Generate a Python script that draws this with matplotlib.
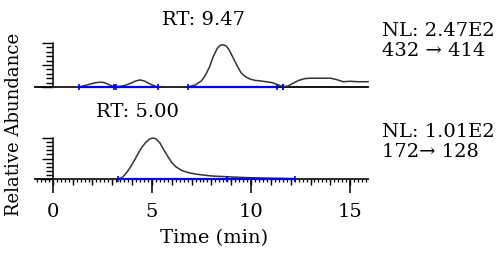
import numpy as np
import matplotlib
matplotlib.use('Agg')
import matplotlib.pyplot as plt
from matplotlib.ticker import MultipleLocator, FixedLocator

# chromatogram traces (time in min, % relative abundance)
top_t = [0.0, 1.3, 1.6, 1.9, 2.2, 2.4, 2.6, 2.8, 3.0, 3.3, 3.6, 3.9, 4.2, 4.4, 4.6, 4.9, 5.2,
         6.5, 6.9, 7.2, 7.5, 7.7, 7.9, 8.1, 8.3, 8.45, 8.6, 8.75, 8.9, 9.1, 9.3, 9.5, 9.7,
         9.95, 10.2, 10.45, 10.75, 11.06, 11.3, 11.6, 11.85, 12.1, 12.4, 12.7, 13.0, 13.5,
         14.0, 14.3, 14.65, 15.0, 15.4, 15.9]
top_y = [0, 0, 3, 7, 10, 11, 10, 6, 2, 1, 3, 8, 14, 16, 14, 7, 1,
         0, 1, 5, 14, 27, 45, 70, 88, 95, 96, 93, 84, 66, 48, 32, 24,
         18, 15, 14, 12, 10, 6, 1, 2, 8, 15, 19, 20, 20,
         20, 17, 12, 13, 12, 12]
bot_t = [0.0, 3.3, 3.5, 3.7, 3.9, 4.1, 4.3, 4.5, 4.7, 4.9, 5.05, 5.2, 5.4, 5.6, 5.8, 6.0,
         6.2, 6.5, 6.8, 7.2, 7.7, 8.1, 8.6, 9.0, 10.0, 11.0, 12.0, 12.3, 15.9]
bot_y = [0, 0, 4, 14, 28, 44, 62, 78, 90, 98, 100, 98, 88, 71, 55, 40,
         30, 21, 16, 12, 9, 7, 6, 5, 3, 2, 1, 0, 0]

# integration baselines (blue)
top_base = [(1.3, 3.1), (3.2, 5.3), (6.8, 11.3), (11.6, 11.6)]
bot_base = [(3.3, 8.8), (8.8, 12.2)]

top_rt = 'RT: 9.47'
bot_rt = 'RT: 5.00'
top_nl = 'NL: 2.47E2\n432 \u2192 414'
bot_nl = 'NL: 1.01E2\n172\u2192 128'

fs = 14
plt.rcParams['font.family'] = ['DejaVu Serif', 'DejaVu Sans']

W, H = 500, 264
fig = plt.figure(figsize=(W / 100, H / 100), dpi=100)

def px_box(left, right, y0, y100):
    return [left / W, 1 - y0 / H, (right - left) / W, (y0 - y100) / H]

ax1 = fig.add_axes(px_box(35, 368, 87, 43))
ax2 = fig.add_axes(px_box(35, 368, 179, 138))

for ax, t, y, base in [(ax1, top_t, top_y, top_base), (ax2, bot_t, bot_y, bot_base)]:
    ax.set_xlim(-0.9, 15.9)
    ax.set_ylim(0, 100)
    ax.plot(t, y, color='#333333', lw=1.1, clip_on=False, zorder=3)
    for a, b in base:
        ax.plot([a, b], [0.5, 0.5], color='#0000ee', lw=1.6, marker='|', ms=5,
                mew=1.2, clip_on=False, zorder=4)
    for s in ['top', 'right']:
        ax.spines[s].set_visible(False)
    ax.spines['left'].set_position(('data', 0))
    ax.spines['left'].set_bounds(0, 100)
    ax.spines['left'].set_linewidth(1.1)
    ax.spines['bottom'].set_linewidth(1.3)
    ax.yaxis.set_major_locator(FixedLocator([0, 50, 100]))
    ax.yaxis.set_minor_locator(MultipleLocator(10))
    ax.tick_params(axis='y', which='major', length=8, width=1, direction='out', labelleft=False)
    ax.tick_params(axis='y', which='minor', length=5, width=1, direction='out')
    ax.patch.set_visible(False)

ax1.tick_params(axis='x', which='both', bottom=False, labelbottom=False)

ax2.xaxis.set_major_locator(FixedLocator([0, 5, 10, 15]))
ax2.xaxis.set_minor_locator(MultipleLocator(0.2))
ax2.tick_params(axis='x', which='major', length=10, width=1.1, direction='out',
                labelsize=fs, pad=7)
ax2.tick_params(axis='x', which='minor', length=2.5, width=0.9, direction='out')
sec = ax2.secondary_xaxis('bottom')
sec.spines['bottom'].set_visible(False)
sec.xaxis.set_major_locator(MultipleLocator(1))
sec.tick_params(axis='x', length=4.5, width=1, labelbottom=False)

fig.text(204 / W, 1 - 20 / H, top_rt, ha='center', va='center', fontsize=fs)
fig.text(137 / W, 1 - 112 / H, bot_rt, ha='center', va='center', fontsize=fs)
fig.text(382 / W, 1 - 41 / H, top_nl, ha='left', va='center', fontsize=fs, linespacing=1.15)
fig.text(382 / W, 1 - 142 / H, bot_nl, ha='left', va='center', fontsize=fs, linespacing=1.15)
fig.text(14 / W, 1 - 124 / H, 'Relative Abundance', rotation=90, ha='center', va='center', fontsize=13)
fig.text(214 / W, 1 - 238 / H, 'Time (min)', ha='center', va='center', fontsize=fs)

fig.savefig('out.png', dpi=100)
